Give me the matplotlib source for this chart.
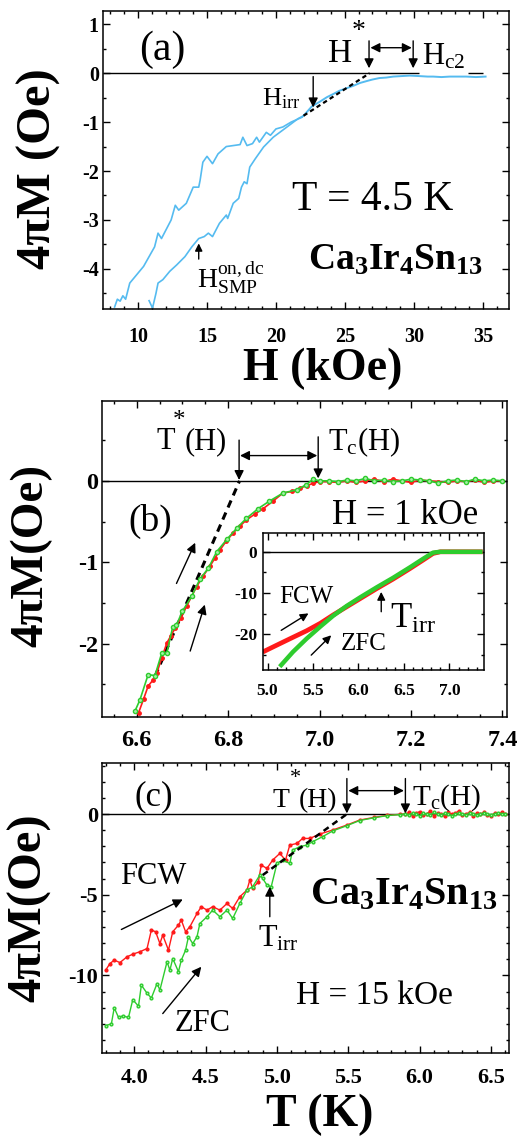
import matplotlib
matplotlib.use("Agg")
from matplotlib import pyplot as plt
from matplotlib.ticker import MultipleLocator

plt.rcParams['font.family'] = ['Liberation Serif', 'DejaVu Serif']
plt.rcParams['mathtext.fontset'] = 'custom'
plt.rcParams['mathtext.rm'] = 'Liberation Serif'
plt.rcParams['mathtext.it'] = 'Liberation Serif:italic'
plt.rcParams['mathtext.bf'] = 'Liberation Serif:bold'
plt.rcParams['axes.unicode_minus'] = False

BLUE = '#55bbf0'
RED = '#ff1a1a'
GREEN = '#2ecc2e'

# ---- panel (a): M(H) at 4.5 K
a_up_H = [8.3, 8.5, 8.7, 8.9, 9.1, 9.4, 10.4, 11.2, 11.45, 11.7, 12.4, 12.7, 12.95, 13.5, 14.0,
          14.4, 14.5, 14.7, 15.0, 15.4, 15.8, 16.4, 17.4, 17.6, 17.9, 18.3, 18.6, 18.8, 19.3,
          19.6, 20.0, 20.5, 21.1, 21.9]
a_up_M = [-4.78, -4.62, -4.66, -4.55, -4.62, -4.29, -3.95, -3.55, -3.27, -3.38, -3.0, -2.7, -2.8,
          -2.66, -2.33, -2.33, -2.19, -1.82, -1.70, -1.85, -1.65, -1.5, -1.46, -1.31, -1.48, -1.44,
          -1.31, -1.41, -1.21, -1.27, -1.14, -1.1, -1.0, -0.9]
a_dn_H = [10.8, 11.05, 11.3, 11.45, 11.8, 12.3, 12.8, 13.4, 13.9, 14.4, 14.8, 15.1, 15.4, 15.9,
          16.4, 16.5, 16.9, 17.3, 17.5, 17.7, 17.9, 18.1, 18.5, 19.1, 19.8, 20.8, 21.6, 22.0]
a_dn_M = [-4.65, -4.8, -4.5, -4.29, -4.22, -4.05, -3.92, -3.75, -3.55, -3.38, -3.34, -3.27, -3.34,
          -3.07, -2.9, -2.97, -2.66, -2.56, -2.33, -2.22, -2.26, -1.92, -1.75, -1.51, -1.31, -1.1,
          -0.93, -0.87]
a_hi_H = [22.0, 22.6, 23.2, 23.7, 24.2, 24.6, 25.1, 25.6, 26.1, 26.6, 27.0, 27.5, 28.0, 28.5, 29.1,
          29.7, 30.4, 31.0, 31.4, 32.0, 32.6, 33.2, 33.8, 34.5, 35.2]
a_hi_M = [-0.87, -0.68, -0.58, -0.49, -0.42, -0.36, -0.31, -0.26, -0.20, -0.16, -0.13, -0.10, -0.09,
          -0.07, -0.06, -0.05, -0.06, -0.07, -0.07, -0.08, -0.07, -0.07, -0.07, -0.08, -0.07]
a_fit_H = [22.0, 26.8]
a_fit_M = [-0.87, 0.0]

# ---- panel (b): M(T) at 1 kOe
b_fcw_T = [6.604, 6.615, 6.625, 6.635, 6.644, 6.655, 6.666, 6.675, 6.684, 6.697, 6.709, 6.72, 6.731,
           6.745, 6.76, 6.771, 6.782, 6.796, 6.811, 6.825, 6.84, 6.858, 6.877, 6.898, 6.92, 6.94,
           6.957, 6.972, 6.986, 7.0, 7.02, 7.04, 7.06, 7.08, 7.10, 7.12, 7.14, 7.16, 7.18, 7.20,
           7.22, 7.24, 7.26, 7.28, 7.30, 7.32, 7.34, 7.36, 7.38, 7.40]
b_fcw_M = [-2.85, -2.68, -2.52, -2.45, -2.36, -2.17, -1.99, -1.90, -1.81, -1.68, -1.54, -1.42, -1.30,
           -1.17, -1.05, -0.95, -0.85, -0.74, -0.64, -0.56, -0.48, -0.41, -0.34, -0.25, -0.15, -0.13,
           -0.09, -0.06, -0.03, -0.01, -0.01, -0.02, 0.0, -0.02, 0.0, 0.02, -0.01, 0.02, 0.0, -0.02,
           0.01, 0.0, -0.01, -0.02, 0.0, -0.01, 0.01, -0.02, 0.0, 0.0]
b_zfc_T = [6.596, 6.607, 6.625, 6.64, 6.655, 6.666, 6.679, 6.687, 6.70, 6.72, 6.738, 6.757, 6.775,
           6.797, 6.819, 6.84, 6.866, 6.89, 6.92, 6.95, 6.97, 6.986, 7.0, 7.02, 7.04, 7.06, 7.08,
           7.10, 7.12, 7.14, 7.16, 7.18, 7.20, 7.22, 7.24, 7.26, 7.28, 7.30, 7.32, 7.34, 7.36,
           7.38, 7.40]
b_zfc_M = [-2.83, -2.69, -2.38, -2.39, -2.11, -2.11, -1.79, -1.77, -1.60, -1.42, -1.21, -1.07, -0.87,
           -0.72, -0.58, -0.46, -0.34, -0.25, -0.15, -0.11, -0.05, 0.02, 0.0, 0.0, -0.01, 0.01, 0.0,
           0.03, 0.0, 0.01, -0.01, 0.0, 0.02, 0.01, 0.0, -0.03, 0.0, 0.01, -0.01, 0.02, 0.0, 0.01,
           0.0]
b_fit_T = [6.64, 6.825]
b_fit_M = [-2.40, 0.0]

# inset of (b)
i_fcw_T = [4.97, 5.10, 5.25, 5.43, 5.58, 5.72, 5.87, 6.02, 6.20, 6.38, 6.57, 6.71, 6.82, 6.90, 7.0,
           7.1, 7.2, 7.34]
i_fcw_M = [-24.0, -22.6, -21.0, -19.1, -17.3, -15.3, -13.3, -11.3, -8.9, -6.6, -4.0, -2.0, -0.4, 0.0,
           0.0, 0.0, 0.0, 0.0]
i_zfc_T = [5.15, 5.28, 5.43, 5.58, 5.72, 5.87, 6.02, 6.20, 6.38, 6.57, 6.71, 6.82, 6.90, 7.0, 7.1,
           7.2, 7.34]
i_zfc_M = [-27.4, -24.2, -21.0, -18.1, -15.5, -13.1, -11.0, -8.6, -6.3, -3.7, -1.7, -0.2, 0.0, 0.0,
           0.0, 0.0, 0.0]

# ---- panel (c): M(T) at 15 kOe
c_fcw_T = [3.80, 3.83, 3.86, 3.90, 3.95, 3.99, 4.04, 4.09, 4.12, 4.15, 4.18, 4.20, 4.24, 4.27, 4.31,
           4.33, 4.36, 4.39, 4.44, 4.47, 4.51, 4.55, 4.60, 4.65, 4.69, 4.74, 4.79, 4.81, 4.83, 4.87,
           4.89, 4.93, 4.97, 5.02, 5.06, 5.09, 5.14, 5.18, 5.23, 5.30, 5.39, 5.49, 5.58, 5.68, 5.77,
           5.86]
c_fcw_M = [-9.67, -9.26, -9.05, -9.2, -8.84, -8.68, -8.53, -8.33, -7.19, -7.29, -8.02, -7.5, -8.43,
           -7.29, -6.88, -6.57, -7.29, -6.98, -6.16, -5.74, -5.95, -5.74, -5.95, -5.54, -5.85, -5.12,
           -4.71, -4.09, -4.6, -4.19, -3.16, -3.37, -2.85, -2.44, -2.85, -1.92, -1.82, -1.51, -1.51,
           -1.24, -0.99, -0.68, -0.37, -0.21, -0.08, -0.02]
c_zfc_T = [3.80, 3.84, 3.86, 3.89, 3.92, 3.96, 3.99, 4.03, 4.05, 4.09, 4.12, 4.16, 4.18, 4.23, 4.25,
           4.27, 4.31, 4.33, 4.36, 4.38, 4.41, 4.44, 4.46, 4.51, 4.55, 4.60, 4.65, 4.69, 4.74, 4.79,
           4.83, 4.88, 4.90, 4.93, 4.96, 5.00, 5.04, 5.09, 5.11, 5.16, 5.21, 5.25, 5.32, 5.39, 5.49,
           5.58, 5.68, 5.77, 5.86]
c_zfc_M = [-13.1, -13.0, -12.0, -12.6, -12.5, -12.6, -11.5, -11.9, -10.6, -11.1, -11.4, -10.5, -10.9,
           -9.15, -9.67, -8.95, -9.77, -9.05, -8.43, -7.6, -8.02, -7.6, -6.78, -6.36, -5.95, -6.36,
           -5.95, -6.47, -5.54, -4.71, -4.5, -3.78, -3.99, -4.4, -4.5, -3.06, -2.85, -3.06, -2.23,
           -2.02, -1.92, -1.71, -1.4, -1.05, -0.72, -0.4, -0.23, -0.1, -0.03]
c_tail_T = [5.900, 5.925, 5.950, 5.975, 6.000, 6.025, 6.050, 6.075, 6.100, 6.125, 6.150, 6.175,
            6.200, 6.225, 6.250, 6.275, 6.300, 6.325, 6.350, 6.375, 6.400, 6.425, 6.450, 6.475,
            6.500, 6.525, 6.550, 6.575, 6.600]
c_tail_fcw = [0.0, 0.1, -0.1, 0.05, 0.15, -0.05, 0.0, 0.2, -0.1, 0.05, 0.0, -0.15, 0.1, 0.0, 0.05,
              0.2, -0.05, 0.0, 0.1, -0.1, 0.05, 0.0, 0.1, -0.05, -0.1, 0.05, 0.0, 0.1, 0.0]
c_tail_zfc = [0.0, -0.05, 0.05, 0.0, -0.1, 0.05, 0.0, -0.05, 0.1, 0.0, -0.05, 0.05, 0.0, -0.1, 0.0,
              0.05, 0.0, -0.05, 0.05, 0.0, -0.05, 0.0, 0.05, 0.0, -0.05, 0.0, 0.05, 0.0, 0.0]
c_fit_T = [4.90, 5.49]
c_fit_M = [-3.78, 0.0]


def style(ax, xmaj, xmin, ymaj, ymin, size, xpad, ypad):
    ax.xaxis.set_major_locator(MultipleLocator(xmaj))
    ax.xaxis.set_minor_locator(MultipleLocator(xmin))
    ax.yaxis.set_major_locator(MultipleLocator(ymaj))
    ax.yaxis.set_minor_locator(MultipleLocator(ymin))
    ax.tick_params(which='both', direction='in', top=True, right=True, width=1)
    ax.tick_params(which='major', length=5)
    ax.tick_params(which='minor', length=2.5)
    ax.tick_params(axis='x', pad=xpad)
    ax.tick_params(axis='y', pad=ypad)
    for lab in ax.get_xticklabels() + ax.get_yticklabels():
        lab.set_fontsize(size)
        lab.set_fontweight('bold')
    for s in ax.spines.values():
        s.set_linewidth(1.1)


def arrow(ax, x0, y0, x1, y1, style='-|>', ms=14):
    ax.annotate('', xy=(x1, y1), xytext=(x0, y0),
                arrowprops=dict(arrowstyle=style, color='k', lw=1.0, mutation_scale=ms,
                                shrinkA=0, shrinkB=0))


fig = plt.figure(figsize=(5.31, 11.36), dpi=100)

# ---------- (a)
ax = fig.add_axes([0.194, 0.728, 0.7646, 0.2623])
ax.hlines(0, 7.46, 30.4, color='k', lw=1)
ax.hlines(0, 33.9, 35.0, color='k', lw=1)
ax.plot(a_up_H, a_up_M, color=BLUE, lw=1.2)
ax.plot(a_dn_H, a_dn_M, color=BLUE, lw=1.2)
ax.plot(a_hi_H, a_hi_M, color=BLUE, lw=1.4)
ax.plot(a_fit_H, a_fit_M, color='k', lw=1.6, ls=(0, (2, 1.5)))
ax.set_xlim(7.46, 36.9)
ax.set_ylim(-4.82, 1.27)
style(ax, 5, 1, 1, 0.5, 14.5, 13, 3)
ax.set_xlabel('H (kOe)', fontsize=33, fontweight='bold', labelpad=0)
ax.set_ylabel('4πM (Oe)', fontsize=35, fontweight='bold')
ax.xaxis.set_label_coords(0.54, -0.13)
ax.yaxis.set_label_coords(-0.103, 0.47)
ax.text(11.75, 0.47, '(a)', fontsize=30, ha='center', va='center')
ax.text(24.65, 0.39, 'H', fontsize=24, ha='center', va='center')
ax.text(26.0, 0.86, '*', fontsize=20, ha='center', va='center')
ax.text(30.57, 0.18, r'H$_{\rm c2}$', fontsize=22, ha='left', va='baseline')
ax.text(18.96, -0.66, r'H$_{\rm irr}$', fontsize=19, ha='left', va='baseline')
ax.text(27.0, -2.58, 'T = 4.5 K', fontsize=30, ha='center', va='center')
ax.text(22.35, -4.02, r'$\mathbf{Ca_3Ir_4Sn_{13}}$', fontsize=27, ha='left', va='baseline')
ax.text(14.24, -4.39, r'H$_{\rm SMP}^{\rm on,dc}$', fontsize=20, ha='left', va='baseline')
arrow(ax, 26.75, 0.66, 26.75, 0.1)
arrow(ax, 29.95, 0.66, 29.95, 0.1)
arrow(ax, 26.85, 0.52, 29.85, 0.52, '<|-|>')
arrow(ax, 22.7, -0.07, 22.7, -0.7)
arrow(ax, 14.4, -3.8, 14.4, -3.48, ms=11)

# ---------- (b)
ax = fig.add_axes([0.192, 0.3688, 0.7628, 0.2782])
ax.axhline(0, color='k', lw=1)
ax.plot(b_fit_T, b_fit_M, color='k', lw=2.2, ls=(0, (2.5, 1.8)))
ax.plot(b_fcw_T, b_fcw_M, color=RED, lw=1.2, marker='o', ms=2.5)
ax.plot(b_zfc_T, b_zfc_M, color=GREEN, lw=1.2, marker='o', ms=3, mfc='#a8f0a8')
ax.set_xlim(6.524, 7.41)
ax.set_ylim(-2.9, 0.98)
style(ax, 0.2, 0.05, 1, 0.5, 17.5, 9, 3)
ax.set_ylabel('4πM(Oe)', fontsize=34, fontweight='bold')
ax.yaxis.set_label_coords(-0.123, 0.51)
ax.text(6.644, 0.39, 'T', fontsize=22, ha='left', va='baseline')
ax.text(6.693, 0.74, '*', fontsize=18, ha='center', va='center')
ax.text(6.704, 0.39, '(H)', fontsize=22, ha='left', va='baseline')
ax.text(7.019, 0.38, r'T$_{\rm c}$(H)', fontsize=22, ha='left', va='baseline')
ax.text(6.629, -0.5, '(b)', fontsize=27, ha='center', va='center')
ax.text(7.187, -0.43, 'H = 1 kOe', fontsize=25, ha='center', va='center')
arrow(ax, 6.824, 0.50, 6.824, 0.01)
arrow(ax, 6.997, 0.54, 6.997, 0.03)
arrow(ax, 6.826, 0.31, 6.995, 0.31, '<|-|>')
arrow(ax, 6.687, -1.26, 6.728, -0.76)
arrow(ax, 6.717, -2.09, 6.749, -1.52)

ins = fig.add_axes([0.4953, 0.4102, 0.4162, 0.1208])
ins.axhline(0, color='k', lw=1)
ins.plot(i_fcw_T, i_fcw_M, color=RED, lw=3.4)
ins.plot(i_zfc_T, i_zfc_M, color=GREEN, lw=3.2)
ins.set_xlim(4.95, 7.38)
ins.set_ylim(-28.6, 4.6)
style(ins, 0.5, 0.1, 10, 5, 12.5, 9, 4)
ins.text(5.13, -11.0, 'FCW', fontsize=18, ha='left', va='center')
ins.text(5.81, -22.2, 'ZFC', fontsize=18, ha='left', va='center')
ins.text(6.35, -18.5, r'T$_{\rm irr}$', fontsize=25, ha='left', va='baseline')
arrow(ins, 5.15, -19.0, 5.45, -14.9, ms=12)
arrow(ins, 5.48, -25.0, 5.70, -20.2, ms=12)
arrow(ins, 6.25, -14.5, 6.25, -9.7, ms=12)

# ---------- (c)
ax = fig.add_axes([0.192, 0.0731, 0.7666, 0.2552])
ax.axhline(0, color='k', lw=1)
ax.plot(c_fcw_T + c_tail_T, c_fcw_M + c_tail_fcw, color=RED, lw=1.0, marker='o', ms=2)
ax.plot(c_zfc_T + c_tail_T, c_zfc_M + c_tail_zfc, color=GREEN, lw=1.0, marker='o', ms=2,
        mfc='#a8f0a8')
ax.plot(c_fit_T, c_fit_M, color='k', lw=1.8, ls=(0, (2.5, 1.8)))
ax.set_xlim(3.774, 6.626)
ax.set_ylim(-14.8, 3.16)
style(ax, 0.5, 0.1, 5, 1, 16, 11, 3)
ax.set_xlabel('T (K)', fontsize=33, fontweight='bold', labelpad=0)
ax.set_ylabel('4πM(Oe)', fontsize=35, fontweight='bold')
ax.xaxis.set_label_coords(0.535, -0.14)
ax.yaxis.set_label_coords(-0.125, 0.5)
ax.text(4.14, 1.07, '(c)', fontsize=25, ha='center', va='center')
ax.text(4.97, 0.45, 'T', fontsize=20, ha='left', va='baseline')
ax.text(5.13, 2.2, '*', fontsize=16, ha='center', va='center')
ax.text(5.155, 0.45, '(H)', fontsize=20, ha='left', va='baseline')
ax.text(5.944, 0.56, r'T$_{\rm c}$(H)', fontsize=21, ha='left', va='baseline')
ax.text(4.13, -3.88, 'FCW', fontsize=22, ha='center', va='center')
ax.text(5.23, -5.58, r'$\mathbf{Ca_3Ir_4Sn_{13}}$', fontsize=29, ha='left', va='baseline')
ax.text(4.87, -8.22, r'T$_{\rm irr}$', fontsize=22, ha='left', va='baseline')
ax.text(5.68, -11.28, 'H = 15 kOe', fontsize=24, ha='center', va='center')
ax.text(4.48, -12.97, 'ZFC', fontsize=22, ha='center', va='center')
arrow(ax, 5.49, 2.2, 5.49, 0.04)
arrow(ax, 5.90, 2.2, 5.90, 0.04)
arrow(ax, 5.50, 1.45, 5.89, 1.45, '<|-|>')
arrow(ax, 3.91, -7.15, 4.34, -5.29)
arrow(ax, 4.95, -6.36, 4.95, -4.5)
arrow(ax, 4.20, -12.36, 4.47, -9.46)

fig.savefig('out.png', dpi=100)
